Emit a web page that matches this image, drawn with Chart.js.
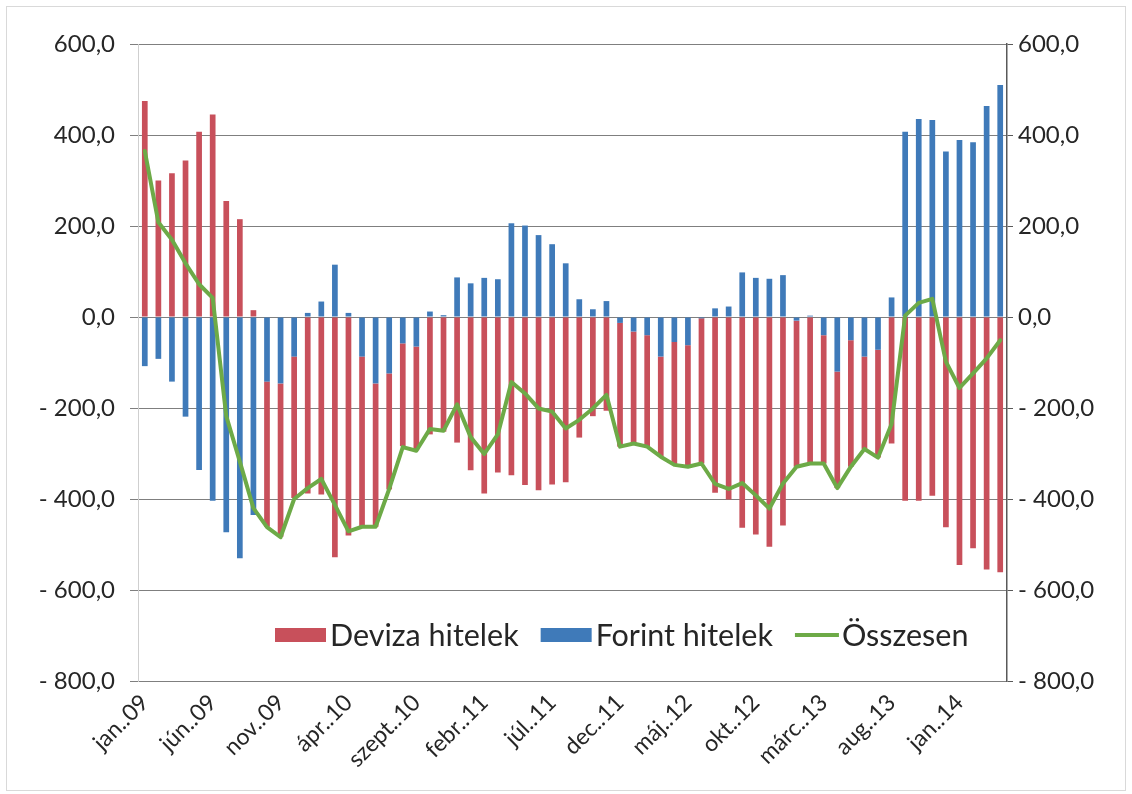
<!DOCTYPE html>
<html>
<head>
<meta charset="utf-8">
<script src="https://cdn.jsdelivr.net/npm/chart.js@4/dist/chart.umd.min.js"></script>
<style>
  html, body { margin: 0; padding: 0; background: #ffffff; }
  #wrap { width: 1132px; height: 794px; position: relative; }
</style>
</head>
<body>
<div id="wrap"><canvas id="c" width="1132" height="794"></canvas></div>
<script>
// ---------- DATA ----------
const categories = [
  'jan..09','febr..09','márc..09','ápr..09','máj..09','jún..09','júl..09','aug..09','szept..09','okt..09','nov..09','dec..09',
  'jan..10','febr..10','márc..10','ápr..10','máj..10','jún..10','júl..10','aug..10','szept..10','okt..10','nov..10','dec..10',
  'jan..11','febr..11','márc..11','ápr..11','máj..11','jún..11','júl..11','aug..11','szept..11','okt..11','nov..11','dec..11',
  'jan..12','febr..12','márc..12','ápr..12','máj..12','jún..12','júl..12','aug..12','szept..12','okt..12','nov..12','dec..12',
  'jan..13','febr..13','márc..13','ápr..13','máj..13','jún..13','júl..13','aug..13','szept..13','okt..13','nov..13','dec..13',
  'jan..14','febr..14','márc..14','ápr..14'
];
const shownLabels = ['jan..09','jún..09','nov..09','ápr..10','szept..10','febr..11','júl..11','dec..11','máj..12','okt..12','márc..13','aug..13','jan..14'];

const deviza = [
  475, 300, 316, 344, 407, 445, 255, 215, 15, -319, -337, -311,
  -388, -390, -528, -480, -374, -315, -255, -226, -228, -258, -252, -276,
  -337, -388, -342, -348, -369, -381, -368, -363, -265, -218, -206, -272,
  -246, -245, -220, -270, -267, -319, -386, -401, -463, -478, -505, -458,
  -321, -325, -282, -256, -278, -203, -237, -278, -404, -404, -393, -462,
  -545, -508, -555, -561
];
const forint = [
  -108, -92, -142, -219, -336, -404, -473, -530, -435, -142, -146, -87,
  9, 34, 115, 9, -87, -146, -124, -58, -65, 12, 4, 87,
  74, 86, 83, 206, 201, 180, 160, 118, 39, 17, 35, -13,
  -32, -40, -87, -55, -62, -3, 19, 23, 98, 86, 84, 92,
  -8, 3, -40, -120, -51, -87, -72, 43, 407, 435, 433, 364,
  389, 384, 464, 510
];
const osszesen = [
  365, 208, 170, 118, 72, 42, -218, -318, -420, -462, -484, -400,
  -376, -356, -413, -471, -461, -461, -378, -286, -294, -246, -250, -192,
  -264, -301, -258, -143, -168, -201, -208, -245, -226, -201, -171, -285,
  -278, -285, -307, -325, -329, -322, -367, -378, -365, -392, -421, -366,
  -329, -322, -322, -376, -329, -290, -309, -235, 3, 31, 40, -98,
  -156, -124, -91, -51
];
const seriesNames = ['Deviza hitelek', 'Forint hitelek', 'Összesen'];
const yMin = -800, yMax = 600, yStep = 200;

// ---------- STYLE ----------
const RED = '#C8505B', BLUE = '#3F7AB9', GREEN = '#6DAA47';
const TXT = '#262626', FONT = 'Lato';

const fmt = v => (v < 0 ? '- ' + Math.abs(v).toFixed(1) : v.toFixed(1)).replace('.', ',');

const frame = {
  id: 'frame',
  beforeDraw(chart) {
    const ctx = chart.ctx;
    ctx.save();
    ctx.strokeStyle = '#d9d9d9';
    ctx.lineWidth = 1;
    ctx.strokeRect(6.5, 6.5, chart.width - 13, chart.height - 10);
    ctx.restore();
  }
};

const inlineLegend = {
  id: 'inlineLegend',
  afterDraw(chart) {
    const ctx = chart.ctx, ca = chart.chartArea;
    ctx.save();
    ctx.font = '30.5px ' + FONT;
    ctx.textBaseline = 'middle';
    ctx.textAlign = 'left';
    const y = ca.top + 591;
    let x = ca.left + 137;
    const items = [
      {name: seriesNames[0], color: RED, kind: 'box'},
      {name: seriesNames[1], color: BLUE, kind: 'box'},
      {name: seriesNames[2], color: GREEN, kind: 'line'}
    ];
    items.forEach(it => {
      if (it.kind === 'box') {
        ctx.fillStyle = it.color;
        ctx.fillRect(x, y - 7, 51, 14);
        x += 55;
      } else {
        ctx.strokeStyle = it.color;
        ctx.lineWidth = 4;
        ctx.beginPath(); ctx.moveTo(x, y); ctx.lineTo(x + 44, y); ctx.stroke();
        x += 47;
      }
      ctx.fillStyle = TXT;
      ctx.fillText(it.name, x, y + 1);
      x += ctx.measureText(it.name).width + 22;
    });
    ctx.restore();
  }
};

new Chart(document.getElementById('c'), {
  data: {
    labels: categories,
    datasets: [
      { type: 'line', label: seriesNames[2], data: osszesen, borderColor: GREEN, borderWidth: 4,
        pointRadius: 0, tension: 0, borderJoinStyle: 'round', borderCapStyle: 'round', order: 0, yAxisID: 'y' },
      { type: 'bar', label: seriesNames[1], data: forint, backgroundColor: BLUE, order: 1, yAxisID: 'y',
        barPercentage: 0.42, categoryPercentage: 1 },
      { type: 'bar', label: seriesNames[0], data: deviza, backgroundColor: RED, order: 1, yAxisID: 'y',
        barPercentage: 0.42, categoryPercentage: 1 }
    ]
  },
  options: {
    responsive: false,
    animation: false,
    devicePixelRatio: 1,
    layout: { padding: { top: 44, left: 0, right: 0, bottom: 0 } },
    plugins: { legend: { display: false }, tooltip: { enabled: false } },
    scales: {
      x: {
        stacked: true,
        grid: { display: false, drawTicks: false },
        border: { display: false },
        ticks: {
          autoSkip: false, maxRotation: 45, minRotation: 45, padding: 8,
          color: TXT, font: { family: FONT, size: 23 },
          callback: function(val, idx) { const l = categories[idx]; return shownLabels.includes(l) ? l : ''; }
        },
        afterFit(s) { s.height = 113; }
      },
      y: {
        position: 'left', stacked: true, min: yMin, max: yMax,
        grid: { color: '#7f7f7f', lineWidth: 1, drawTicks: true, tickLength: 8 },
        border: { display: true, color: '#cfcfcf' },
        ticks: { stepSize: yStep, padding: 15, color: TXT, font: { family: FONT, size: 24 }, callback: v => fmt(v) },
        afterFit(s) { s.width = 138; }
      },
      y2: {
        position: 'right', min: yMin, max: yMax,
        grid: { drawOnChartArea: false, drawTicks: true, tickLength: 6, color: '#595959' },
        border: { display: true, color: '#595959', width: 1.5 },
        ticks: { stepSize: yStep, padding: 5, color: TXT, font: { family: FONT, size: 24 }, callback: v => fmt(v) },
        afterFit(s) { s.width = 125; }
      }
    }
  },
  plugins: [frame, inlineLegend]
});
</script>
</body>
</html>
